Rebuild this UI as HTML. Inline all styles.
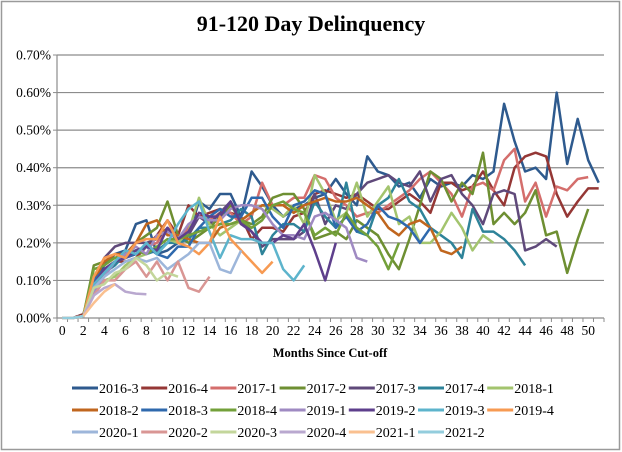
<!DOCTYPE html>
<html><head><meta charset="utf-8"><style>
body{margin:0;background:#fff;}
svg{display:block;}
svg text{font-family:"Liberation Serif","Times New Roman",serif;}
</style></head><body>
<svg id="chart" width="622" height="452" viewBox="0 0 622 452" font-family="Liberation Serif, serif">
<rect x="1.5" y="1.5" width="618" height="448" fill="#fff" stroke="#9a9a9a" stroke-width="1.5"/>
<text x="311" y="31" text-anchor="middle" font-size="22" font-weight="bold">91-120 Day Delinquency</text>
<text x="330" y="357" text-anchor="middle" font-size="12.5" font-weight="bold">Months Since Cut-off</text>
<g id="grid"></g><g id="axes"></g><g id="series"></g><g id="legend"></g>
</svg>
<script>
const categories = Array.from({length:52},(_, i)=>i);
const yTicks = [0,0.1,0.2,0.3,0.4,0.5,0.6,0.7];
const seriesNames = ["2016-3","2016-4","2017-1","2017-2","2017-3","2017-4","2018-1","2018-2","2018-3","2018-4","2019-1","2019-2","2019-3","2019-4","2020-1","2020-2","2020-3","2020-4","2021-1","2021-2"];
const seriesColors = ["#2E5A8E","#953735","#D46E6C","#6E8F32","#5F497A","#2E8399","#A3C46E","#C0661E","#2F69AD","#73A03A","#9F8AC2","#5E3F8C","#5DB4CC","#F79A52","#9DB6DA","#D99694","#C3D69B","#B9A8CF","#FAC090","#93CDDD"];
const s2016_3 = [0,0,0.01,0.10,0.14,0.17,0.18,0.25,0.26,0.17,0.18,0.20,0.22,0.31,0.29,0.33,0.33,0.27,0.39,0.35,0.30,0.27,0.29,0.30,0.32,0.33,0.37,0.33,0.30,0.43,0.39,0.38,0.35,0.36,0.32,0.37,0.35,0.36,0.35,0.38,0.37,0.39,0.57,0.47,0.39,0.40,0.37,0.60,0.41,0.53,0.42,0.36];
const s2016_4 = [0,0,0.01,0.08,0.12,0.15,0.15,0.16,0.19,0.22,0.26,0.22,0.30,0.27,0.28,0.29,0.28,0.27,0.21,0.24,0.24,0.23,0.27,0.28,0.33,0.34,0.33,0.32,0.33,0.31,0.29,0.29,0.31,0.33,0.31,0.28,0.36,0.36,0.34,0.35,0.39,0.34,0.30,0.40,0.43,0.44,0.43,0.33,0.27,0.31,0.345,0.345];
const s2017_1 = [0,0,0.005,0.08,0.13,0.15,0.16,0.17,0.19,0.20,0.24,0.21,0.24,0.27,0.26,0.28,0.28,0.25,0.27,0.36,0.30,0.30,0.32,0.32,0.38,0.37,0.32,0.30,0.27,0.28,0.28,0.30,0.32,0.34,0.37,0.39,0.36,0.33,0.27,0.35,0.36,0.34,0.42,0.45,0.31,0.36,0.27,0.35,0.34,0.37,0.375];
const s2017_2 = [0,0,0.005,0.14,0.15,0.16,0.17,0.20,0.22,0.24,0.31,0.22,0.20,0.22,0.24,0.27,0.30,0.26,0.25,0.27,0.32,0.33,0.33,0.29,0.21,0.22,0.23,0.21,0.26,0.24,0.22,0.17,0.13,0.21,0.30,0.39,0.37,0.31,0.36,0.33,0.44,0.25,0.28,0.25,0.28,0.34,0.22,0.23,0.12,0.21,0.29];
const s2017_3 = [0,0,0.005,0.10,0.16,0.19,0.20,0.20,0.20,0.21,0.24,0.20,0.22,0.27,0.25,0.28,0.31,0.26,0.23,0.19,0.21,0.21,0.21,0.23,0.33,0.25,0.30,0.29,0.33,0.36,0.37,0.38,0.36,0.35,0.39,0.31,0.37,0.38,0.33,0.30,0.25,0.33,0.34,0.33,0.18,0.19,0.21,0.19];
const s2017_4 = [0,0,0.005,0.09,0.12,0.14,0.17,0.18,0.17,0.18,0.20,0.20,0.21,0.24,0.24,0.25,0.26,0.29,0.27,0.17,0.22,0.25,0.25,0.23,0.31,0.27,0.24,0.36,0.23,0.22,0.30,0.32,0.37,0.31,0.29,0.24,0.22,0.20,0.16,0.29,0.23,0.23,0.21,0.18,0.14];
const s2018_1 = [0,0,0.005,0.08,0.10,0.11,0.14,0.16,0.17,0.19,0.21,0.20,0.23,0.32,0.25,0.22,0.24,0.26,0.28,0.30,0.29,0.27,0.30,0.25,0.38,0.33,0.26,0.28,0.36,0.27,0.31,0.35,0.25,0.27,0.20,0.20,0.23,0.28,0.24,0.18,0.22,0.20];
const s2018_2 = [0,0,0.005,0.10,0.15,0.17,0.17,0.20,0.25,0.26,0.22,0.22,0.21,0.20,0.20,0.24,0.25,0.26,0.28,0.30,0.30,0.30,0.28,0.30,0.31,0.32,0.31,0.31,0.32,0.30,0.28,0.24,0.22,0.25,0.26,0.24,0.18,0.17,0.19];
const s2018_3 = [0,0,0.005,0.10,0.13,0.15,0.16,0.17,0.19,0.17,0.16,0.19,0.19,0.24,0.27,0.29,0.27,0.27,0.32,0.32,0.27,0.24,0.30,0.31,0.34,0.33,0.24,0.27,0.23,0.25,0.30,0.27,0.26,0.24,0.20,0.24];
const s2018_4 = [0,0,0.005,0.13,0.14,0.16,0.17,0.18,0.17,0.19,0.21,0.21,0.22,0.23,0.24,0.25,0.25,0.26,0.24,0.26,0.30,0.31,0.29,0.28,0.22,0.24,0.22,0.28,0.24,0.22,0.19,0.13,0.20];
const s2019_1 = [0,0,0.005,0.07,0.11,0.15,0.17,0.19,0.17,0.22,0.23,0.21,0.25,0.27,0.26,0.26,0.29,0.30,0.30,0.29,0.25,0.22,0.22,0.21,0.27,0.28,0.26,0.24,0.16,0.15];
const s2019_2 = [0,0,0.005,0.09,0.13,0.15,0.16,0.18,0.19,0.18,0.24,0.21,0.23,0.28,0.27,0.27,0.31,0.25,0.23,0.20,0.20,0.22,0.21,0.25,0.18,0.10,0.20];
const s2019_3 = [0,0,0.005,0.09,0.12,0.15,0.18,0.17,0.20,0.17,0.20,0.25,0.29,0.31,0.23,0.16,0.22,0.21,0.21,0.20,0.20,0.13,0.10,0.14];
const s2019_4 = [0,0,0.005,0.11,0.16,0.17,0.16,0.20,0.21,0.21,0.26,0.20,0.19,0.17,0.20,0.27,0.21,0.18,0.15,0.12,0.15];
const s2020_1 = [0,0,0.005,0.08,0.11,0.13,0.15,0.16,0.15,0.16,0.13,0.15,0.17,0.20,0.20,0.13,0.12,0.18];
const s2020_2 = [0,0,0.005,0.06,0.10,0.10,0.13,0.15,0.11,0.15,0.10,0.15,0.08,0.07,0.11];
const s2020_3 = [0,0,0.005,0.08,0.09,0.12,0.13,0.16,0.14,0.10,0.12,0.11];
const s2020_4 = [0,0,0.005,0.06,0.08,0.09,0.07,0.065,0.063];
const s2021_1 = [0,0,0.005,0.04,0.07,0.09];
const s2021_2 = [0,0,0.005];
const seriesValues = [s2016_3,s2016_4,s2017_1,s2017_2,s2017_3,s2017_4,s2018_1,s2018_2,s2018_3,s2018_4,s2019_1,s2019_2,s2019_3,s2019_4,s2020_1,s2020_2,s2020_3,s2020_4,s2021_1,s2021_2];

const NS="http://www.w3.org/2000/svg";
const PL=57, PR=604, PT=55, PB=318, YMAX=0.7;
const band=(PR-PL)/categories.length;
const xS=i=>PL+band*(i+0.5);
const yS=v=>PB-(v/YMAX)*(PB-PT);
function mk(tag,attrs,parent){const e=document.createElementNS(NS,tag);for(const k in attrs)e.setAttribute(k,attrs[k]);parent.appendChild(e);return e;}
const grid=document.getElementById('grid'), axes=document.getElementById('axes'), ser=document.getElementById('series'), leg=document.getElementById('legend');
yTicks.forEach(t=>{
  if(t>0){const g=mk('line',{x1:PL,x2:PR,y1:yS(t),y2:yS(t),stroke:'#8c8c8c','stroke-width':1.2},grid);
  
  }
  const tx=mk('text',{x:PL-6,y:yS(t)+4.5,'text-anchor':'end','font-size':13.5},axes);
  
  
  tx.textContent=t.toFixed(2)+'%';
  mk('line',{x1:PL-4,x2:PL,y1:yS(t),y2:yS(t),stroke:'#8c8c8c'},axes);
});
const ya=mk('line',{x1:PL,x2:PL,y1:PT,y2:PB,stroke:'#8c8c8c','stroke-width':1.2},axes);


const xa=mk('line',{x1:PL,x2:PR,y1:PB,y2:PB,stroke:'#8c8c8c','stroke-width':1.2},axes);


for(let i=0;i<=categories.length;i++){mk('line',{x1:PL+band*i,x2:PL+band*i,y1:PB,y2:PB+4,stroke:'#8c8c8c'},axes);}
categories.forEach((c,i)=>{if(c%2===0){
  const tx=mk('text',{x:xS(i),y:PB+17,'text-anchor':'middle','font-size':13.5},axes);
  
  
  tx.textContent=c;}});
seriesValues.forEach((vals,si)=>{
  const pts=vals.map((v,i)=>xS(i).toFixed(1)+','+yS(v).toFixed(1)).join(' ');
  const p=mk('polyline',{points:pts,fill:'none',stroke:seriesColors[si],'stroke-width':2.5,'stroke-linejoin':'round'},ser);
  
  
});
seriesNames.forEach((n,i)=>{
  const r=Math.floor(i/7), c=i%7;
  const x=72+c*69.2, y=[388,410,432][r];
  const g=mk('g',{},leg);
  
  
  mk('line',{x1:x,x2:x+26,y1:y,y2:y,stroke:seriesColors[i],'stroke-width':3},g);
  const t=mk('text',{x:x+27,y:y+5,'font-size':14},g);
  t.textContent=n;
});
</script>
</body></html>
